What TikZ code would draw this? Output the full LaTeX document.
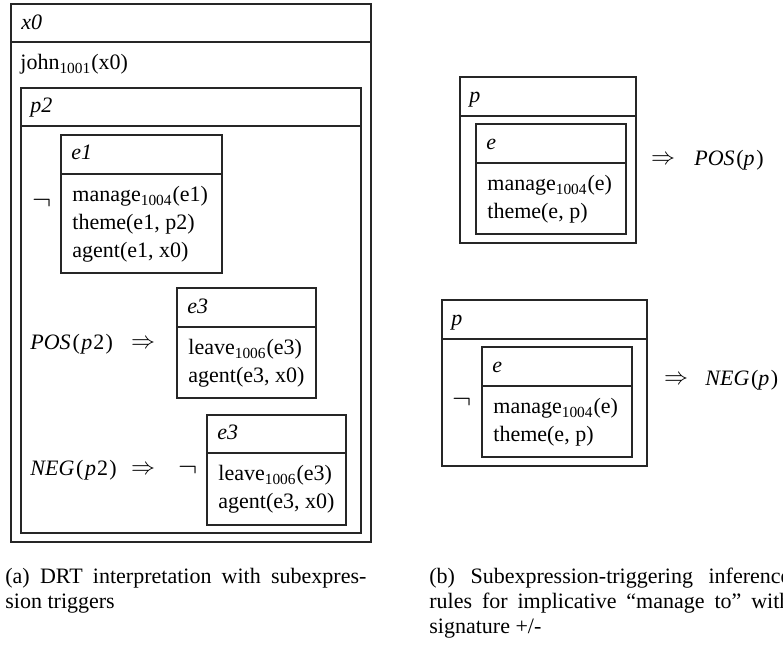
\documentclass[tikz,border=0pt]{standalone}
\usepackage{fontspec}
\setmainfont{Liberation Serif}
\newcommand\drsfont{\fontsize{11}{13}\selectfont}
\newcommand\capfont{\fontsize{11}{12.5}\selectfont}
\newcommand\symfont{\fontsize{13}{15}\selectfont}
\newcommand\negfont{\fontsize{14}{16}\selectfont}
\tikzset{
  drsbox/.style={line width=0.65pt, draw=black!85},
  lbl/.style={anchor=base west, inner sep=0pt, font=\drsfont},
  sym/.style={anchor=center, inner sep=0pt, font=\symfont},
  negsym/.style={anchor=center, inner sep=0pt, font=\negfont},
  captext/.style={anchor=base west, inner sep=0pt, font=\capfont},
}
\begin{document}
\begin{tikzpicture}[x=0.5pt, y=-0.5pt]
\useasboundingbox (0,0) rectangle (783,646);
% ---------- (a) ----------
\draw[drsbox] (11,4) rectangle (371,542);
\draw[drsbox] (11,42) -- (371,42);
\node[lbl] (hx0) at (21,30) {\textit{x0}};
\node[lbl] (john) at (20,70) {john\textsubscript{1001}(x0)};
% p2
\draw[drsbox] (21,88) rectangle (361,533);
\draw[drsbox] (21,126) -- (361,126);
\node[lbl] (hp2) at (30,113) {\textit{p2}};
% e1
\draw[drsbox] (61,135) rectangle (222,273);
\draw[drsbox] (61,174) -- (222,174);
\node[negsym] (neg1) at (42,203.5) {$\neg$};
\node[lbl] (he1) at (71,160) {\textit{e1}};
\node[lbl] (m1) at (72,202) {manage\textsubscript{1004}(e1)};
\node[lbl] (t1) at (72,230) {theme(e1, p2)};
\node[lbl] (a1) at (72,258) {agent(e1, x0)};
% POS
\node[lbl] (pos2) at (30,350) {\textit{POS}\kern0.9pt(\kern0.8pt\textit{p}\kern0.5pt2\kern0.6pt)};
\node[sym] (imp1) at (143,344.5) {$\Rightarrow$};
\draw[drsbox] (177,288) rectangle (316,398);
\draw[drsbox] (177,327) -- (316,327);
\node[lbl] (he3a) at (187,313.5) {\textit{e3}};
\node[lbl] (l3a) at (188,355) {leave\textsubscript{1006}(e3)};
\node[lbl] (a3a) at (188,383) {agent(e3, x0)};
% NEG
\node[lbl] (neg2t) at (30,476) {\textit{NEG}\kern0.9pt(\kern0.8pt\textit{p}\kern0.5pt2\kern0.6pt)};
\node[sym] (imp2) at (143,470.5) {$\Rightarrow$};
\node[negsym] (neg2) at (188.5,470) {$\neg$};
\draw[drsbox] (207,415) rectangle (346,525);
\draw[drsbox] (207,453) -- (346,453);
\node[lbl] (he3b) at (217,439.5) {\textit{e3}};
\node[lbl] (l3b) at (218,481) {leave\textsubscript{1006}(e3)};
\node[lbl] (a3b) at (218,509) {agent(e3, x0)};
% ---------- (b) top ----------
\draw[drsbox] (460,77) rectangle (636,243);
\draw[drsbox] (460,116) -- (636,116);
\node[lbl] (hp) at (469,102.5) {\textit{p}};
\draw[drsbox] (476,124) rectangle (626,234);
\draw[drsbox] (476,163) -- (626,163);
\node[lbl] (he) at (486,149.5) {\textit{e}};
\node[lbl] (m2) at (487,191) {manage\textsubscript{1004}(e)};
\node[lbl] (t2) at (487,219) {theme(e, p)};
\node[sym] (imp3) at (663,160) {$\Rightarrow$};
\node[lbl] (posp) at (694,165.5) {\textit{POS}\kern0.8pt(\textit{p}\kern0.8pt)};
% ---------- (b) bottom ----------
\draw[drsbox] (442,300) rectangle (647,466);
\draw[drsbox] (442,339) -- (647,339);
\node[lbl] (hpb) at (451,325.5) {\textit{p}};
\node[negsym] (neg3) at (462,402) {$\neg$};
\draw[drsbox] (482,347) rectangle (632,457);
\draw[drsbox] (482,386) -- (632,386);
\node[lbl] (heb) at (492,372.5) {\textit{e}};
\node[lbl] (m3) at (493,414) {manage\textsubscript{1004}(e)};
\node[lbl] (t3) at (493,442) {theme(e, p)};
\node[sym] (imp4) at (676,380) {$\Rightarrow$};
\node[lbl] (negp) at (705,385.5) {\textit{NEG}\kern0.8pt(\textit{p}\kern0.8pt)};
% ---------- captions ----------
\node[captext] (capa1) at (5,584) {\makebox[180.5pt][s]{(a) DRT interpretation with subexpres-}};
\node[captext] (capa2) at (5,609) {sion triggers};
\node[captext] (capb1) at (429,584) {\makebox[180.5pt][s]{(b) Subexpression-triggering inference}};
\node[captext] (capb2) at (429,609) {\makebox[180.5pt][s]{rules for implicative “manage to” with}};
\node[captext] (capb3) at (429,634) {signature +/-};
\end{tikzpicture}
\end{document}
